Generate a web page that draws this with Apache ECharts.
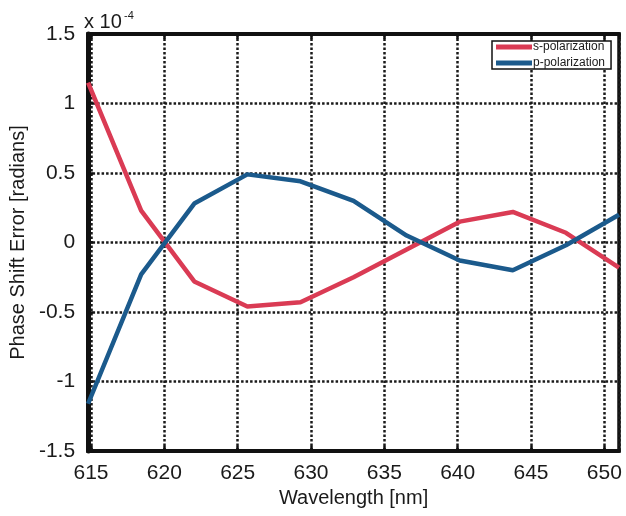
<!DOCTYPE html>
<html>
<head>
<meta charset="utf-8">
<script src="https://cdn.jsdelivr.net/npm/echarts@6/dist/echarts.min.js"></script>
<style>
  html, body { margin: 0; padding: 0; background: #fff; }
  #chart { width: 626px; height: 516px; }
</style>
</head>
<body>
<div id="chart"></div>
<script>
// Sampled wavelengths [nm]
var wavelengths = [614.8, 618.42, 622.04, 625.66, 629.28, 632.9, 636.52, 640.14, 643.76, 647.38, 651.0];
// Phase shift error, in units of 1e-4 rad
var sPolarization = [1.15, 0.23, -0.28, -0.46, -0.43, -0.25, -0.05, 0.15, 0.22, 0.07, -0.18];
var pPolarization = [-1.16, -0.23, 0.28, 0.49, 0.44, 0.30, 0.05, -0.13, -0.20, -0.02, 0.20];
var seriesNames = ['s-polarization', 'p-polarization'];
var yTicks = [-1.5, -1, -0.5, 0, 0.5, 1, 1.5];

var FONT = '"Liberation Sans", Arial, sans-serif';
var INK = '#1a1a1a';

function pairs(xs, ys) {
  return xs.map(function (x, i) { return [x, ys[i]]; });
}

var chart = echarts.init(document.getElementById('chart'), null, { renderer: 'canvas' });

var dotted = { color: INK, width: 2.5, type: [2.5, 2] };
var frameTick = { show: true, inside: true, length: 5, lineStyle: { color: '#111', width: 2.5 } };

chart.setOption({
  animation: false,
  backgroundColor: '#fff',
  grid: {
    left: 87, top: 34, width: 532, height: 417,
    show: true, borderColor: '#111', borderWidth: 3.5,
    containLabel: false
  },
  legend: {
    orient: 'vertical',
    left: 492, top: 41,
    data: [
      { name: seriesNames[0], icon: 'rect' },
      { name: seriesNames[1], icon: 'rect' }
    ],
    itemWidth: 36, itemHeight: 5, itemGap: 4,
    padding: [0, 6, 0, 4],
    backgroundColor: '#fff',
    borderColor: '#111', borderWidth: 1.5, borderRadius: 0,
    textStyle: { fontFamily: FONT, fontSize: 12, lineHeight: 12, color: INK, padding: [0, 0, 0, -4] }
  },
  xAxis: [{
    type: 'value',
    min: wavelengths[0], max: wavelengths[wavelengths.length - 1],
    minInterval: 5, maxInterval: 5,
    name: 'Wavelength [nm]', nameLocation: 'middle', nameGap: 37,
    nameTextStyle: { fontFamily: FONT, fontSize: 20, color: INK },
    axisLine: { show: true, onZero: false, lineStyle: { color: '#111', width: 4 } },
    axisTick: frameTick,
    axisLabel: {
      fontFamily: FONT, fontSize: 21, color: INK, margin: 12,
      showMinLabel: false, showMaxLabel: false
    },
    splitLine: { show: true, lineStyle: dotted }
  }, {
    type: 'value', position: 'top',
    min: wavelengths[0], max: wavelengths[wavelengths.length - 1],
    minInterval: 5, maxInterval: 5,
    axisLine: { show: true, onZero: false, lineStyle: { color: '#111', width: 4 } },
    axisTick: frameTick,
    axisLabel: { show: false },
    splitLine: { show: false }
  }],
  yAxis: {
    type: 'value',
    min: yTicks[0], max: yTicks[yTicks.length - 1], interval: 0.5,
    name: 'Phase Shift Error [radians]', nameLocation: 'middle', nameGap: 55,
    nameTextStyle: { fontFamily: FONT, fontSize: 20, color: INK },
    axisLine: { show: true, onZero: false, lineStyle: { color: '#111', width: 5 } },
    axisTick: frameTick,
    axisLabel: {
      fontFamily: FONT, fontSize: 21, color: INK, margin: 13,
      formatter: function (v) { return String(v); }
    },
    splitLine: { show: true, lineStyle: dotted }
  },
  graphic: [
    {
      type: 'text', left: 84, top: 12,
      style: { text: 'x 10', font: '20px ' + FONT, fill: INK }
    },
    {
      type: 'text', left: 124, top: 10,
      style: { text: '-4', font: '11px ' + FONT, fill: INK }
    }
  ],
  series: [
    {
      name: seriesNames[0], type: 'line',
      data: pairs(wavelengths, sPolarization),
      showSymbol: false, symbol: 'none',
      lineStyle: { color: '#da3b54', width: 4.5 },
      itemStyle: { color: '#da3b54' },
      z: 3
    },
    {
      name: seriesNames[1], type: 'line',
      data: pairs(wavelengths, pPolarization),
      showSymbol: false, symbol: 'none',
      lineStyle: { color: '#1b5a8c', width: 4.5 },
      itemStyle: { color: '#1b5a8c' },
      z: 4
    }
  ]
});
</script>
</body>
</html>
